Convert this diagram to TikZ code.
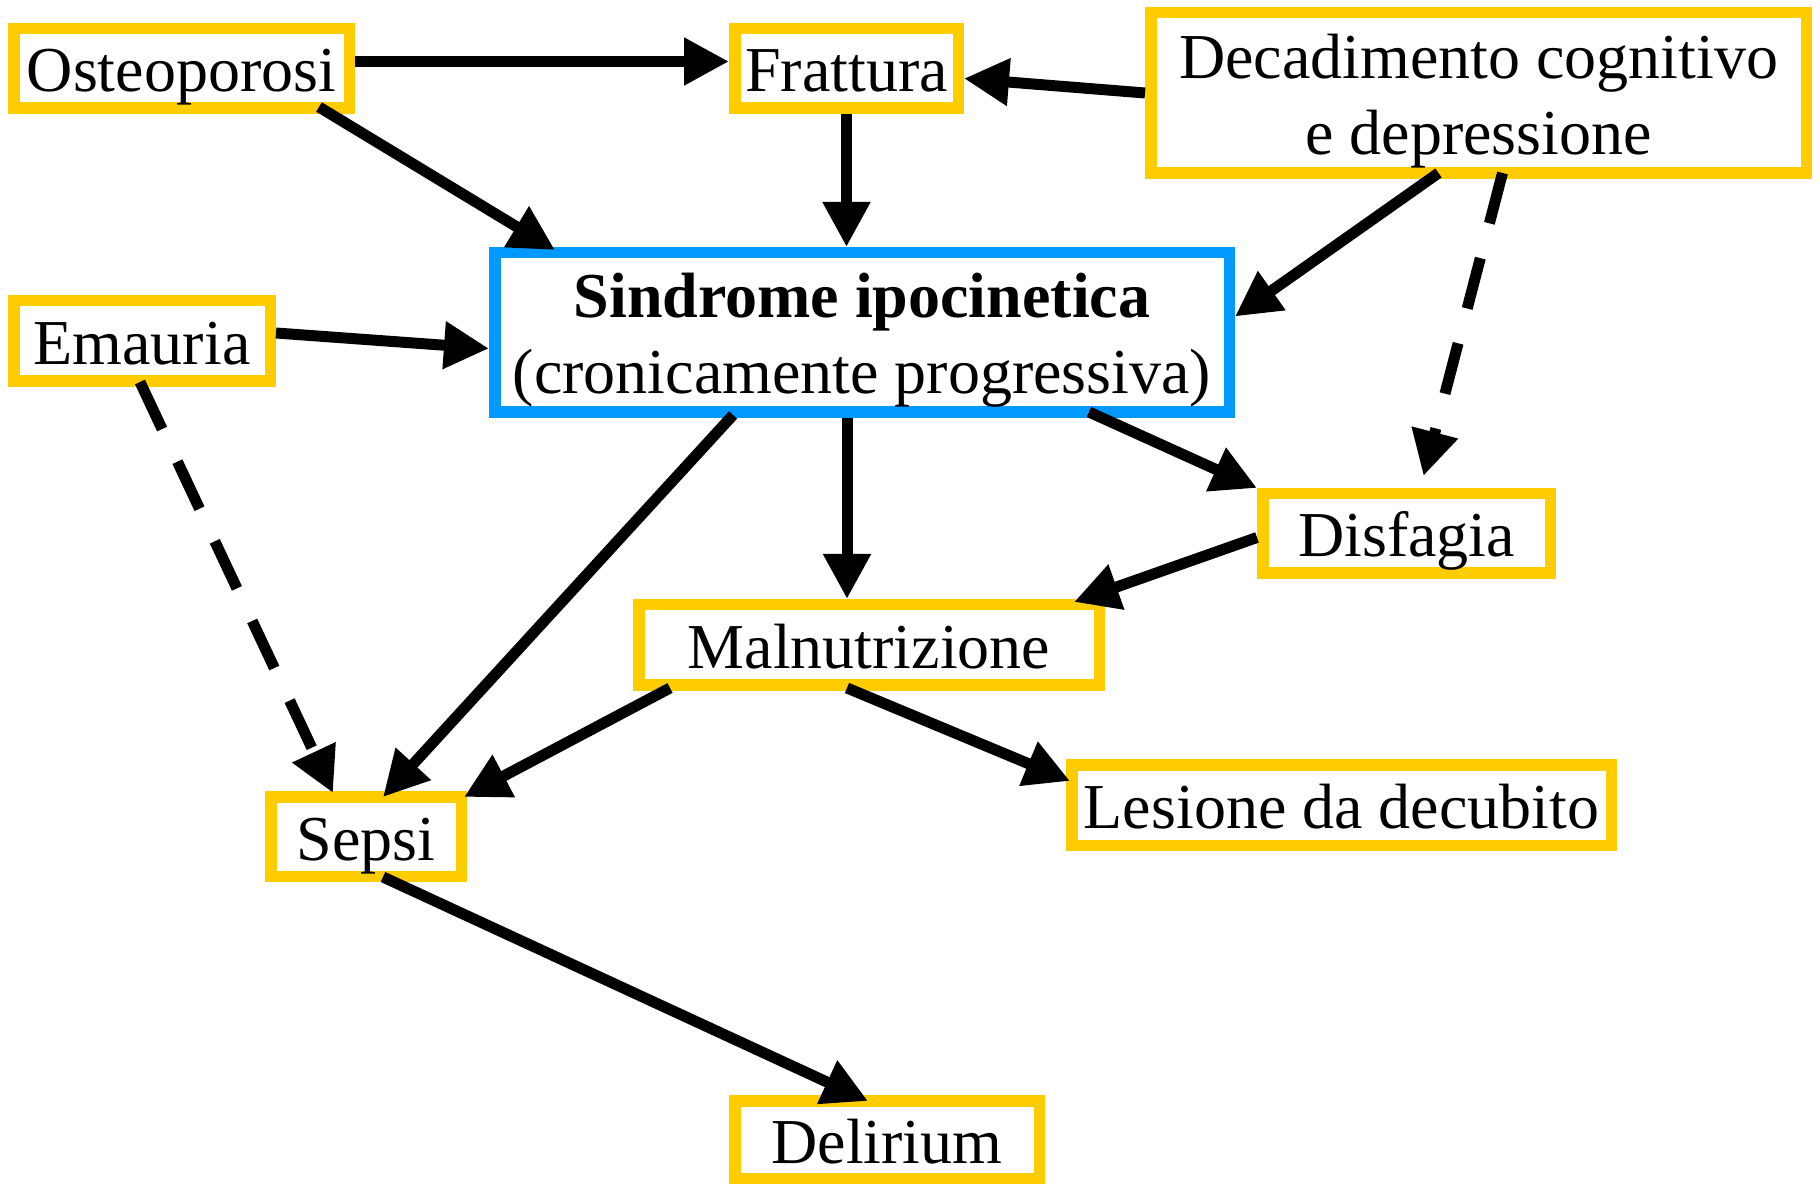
\documentclass[tikz,border=0pt]{standalone}
\usepackage{fontspec}
\setmainfont{Liberation Serif}
\usetikzlibrary{arrows.meta,calc}
\definecolor{ybox}{RGB}{255,204,0}
\definecolor{bbox}{RGB}{0,153,255}
\begin{document}
\begin{tikzpicture}[x=0.5pt,y=-0.5pt,
  box/.style={draw=ybox,line width=5.75pt,fill=white,inner sep=0pt,
    font=\fontsize{32}{38}\selectfont,text height=25pt,text depth=1.5pt,align=center},
  twoline/.style={text height=63pt},
  bluebox/.style={box,draw=bbox},
  arr/.style={line width=5.5pt,-{Triangle[length=22.5pt,width=22.5pt]}},
  dsh/.style={dash pattern=on 26pt off 18pt}]
\useasboundingbox[fill=white] (0,0) rectangle (1820,1186);

\node[box,minimum width=167.75pt,minimum height=39.75pt] (osteo) at (181.5,68.5) {Osteoporosi};
\node[box,minimum width=111.75pt,minimum height=39.75pt] (frat) at (846.5,68.5) {Frattura};
\node[box,twoline,minimum width=327.75pt,minimum height=80.25pt] (dec) at (1478.5,93) {Decadimento cognitivo\\e depressione};
\node[box,minimum width=128.25pt,minimum height=40.25pt] (emau) at (142,341) {Emauria};
\node[bluebox,twoline,minimum width=367.25pt,minimum height=79.75pt] (sind) at (862,332.5) {\textbf{Sindrome ipocinetica}\\(cronicamente progressiva)};
\node[box,minimum width=143.75pt,minimum height=39.75pt] (disf) at (1406.5,533.5) {Disfagia};
\node[box,minimum width=230.25pt,minimum height=40.25pt] (maln) at (869,645) {Malnutrizione};
\node[box,minimum width=95.25pt,minimum height=39.75pt] (sepsi) at (366,836.5) {Sepsi};
\node[box,minimum width=269.75pt,minimum height=40.25pt] (lesi) at (1341.5,805) {Lesione da decubito};
\node[box,minimum width=152.25pt,minimum height=38.75pt] (deli) at (887,1139.5) {Delirium};

\draw[arr] ($(osteo.east)+(0,-7)$) -- ($(frat.west)+(0,-7)$);
\draw[arr] (frat.south) -- (frat.south |- sind.north);
\draw[arr] (dec.west) -- ($(frat.east)+(0,10)$);
\draw[arr] ($(osteo.south east)+(-36,-7)$) -- ($(sind.north west)+(66,3)$);
\draw[arr] ($(emau.east)+(0,-8)$) -- ($(sind.west)+(0,16)$);
\draw[arr] ($(dec.south)+(-40,-6)$) -- ($(sind.east)+(0,-16)$);
\draw[arr,dsh] ($(dec.south)+(24,-6)$) -- ($(disf.north)+(17,-12)$);
\draw[arr] ($(sind.south)+(227,-6)$) -- (disf.north west);
\draw[arr] ($(disf.west)+(0,4)$) -- ($(maln.north east)+(-31,3)$);
\draw[arr] ($(sind.south)+(-129,-3)$) -- ($(sepsi.north)+(17,6)$);
\coordinate (s1) at ($(sind.south)+(-15,0)$);
\draw[arr] (s1) -- (s1 |- maln.north);
\draw[arr] ($(maln.south west)+(37,-3)$) -- ($(sepsi.north east)+(-3,6)$);
\draw[arr] ($(maln.south)+(-22,-3)$) -- ($(lesi.north west)+(4,22)$);
\draw[arr,dsh] ($(emau.south)+(-2,-5)$) -- ($(sepsi.north west)+(68,2)$);
\draw[arr] ($(sepsi.south)+(17,-5)$) -- ($(deli.north)+(-19,6)$);
\end{tikzpicture}
\end{document}
